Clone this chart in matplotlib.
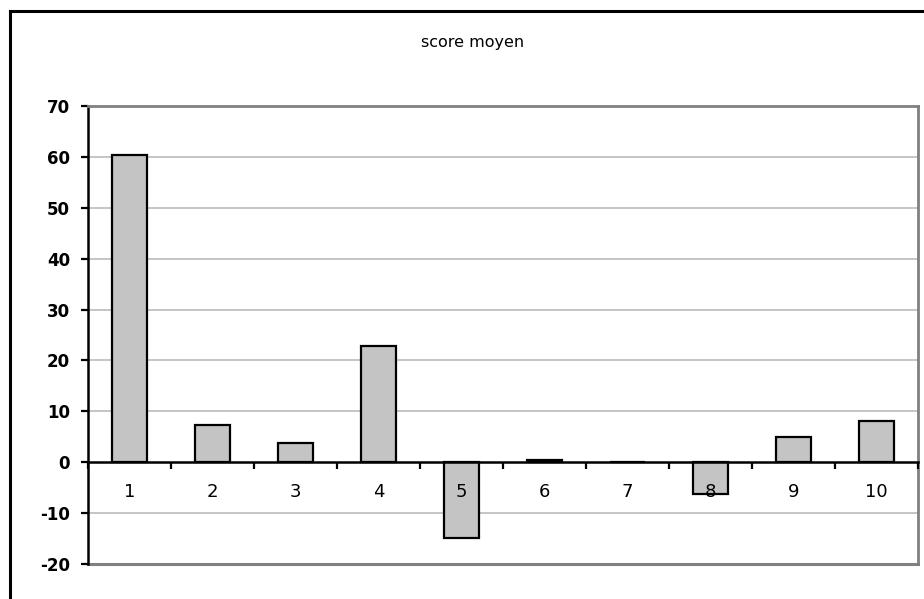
import matplotlib
matplotlib.use("Agg")
import matplotlib.pyplot as plt
from matplotlib.lines import Line2D
from matplotlib.ticker import FixedLocator

categories = ["1", "2", "3", "4", "5", "6", "7", "8", "9", "10"]
scores = [60.4, 7.3, 3.7, 22.8, -14.8, 0.45, 0.0, -6.2, 5.0, 8.1]
y_ticks = [-20, -10, 0, 10, 20, 30, 40, 50, 60, 70]
title = "score moyen"

W, H = 924, 599
fig = plt.figure(figsize=(W / 100, H / 100), dpi=100)
fig.patch.set_facecolor("white")

# chart frame (top and left edges visible)
fig.add_artist(Line2D([10 / W, 10 / W], [0, 1 - 11 / H], transform=fig.transFigure,
                      color="black", lw=2.2, solid_capstyle="projecting"))
fig.add_artist(Line2D([10 / W, 1.0], [1 - 11 / H, 1 - 11 / H], transform=fig.transFigure,
                      color="black", lw=2.2, solid_capstyle="projecting"))

left, right, top, bottom = 88, 918, 106, 564
ax = fig.add_axes([left / W, 1 - bottom / H, (right - left) / W, (bottom - top) / H])

x = list(range(len(categories)))
ax.bar(x, scores, width=0.43, color="#c4c4c4", edgecolor="black", linewidth=1.6, zorder=2)

ax.set_xlim(-0.5, len(categories) - 0.5)
ax.set_ylim(y_ticks[0], y_ticks[-1])
ax.set_yticks(y_ticks)
ax.set_yticklabels([str(v) for v in y_ticks])

# gridlines
for v in y_ticks:
    if v not in (y_ticks[0], y_ticks[-1], 0):
        ax.axhline(v, color="#c0c0c0", lw=1.3, zorder=0)

# plot-area border
for s in ("top", "right"):
    ax.spines[s].set_color("#808080")
    ax.spines[s].set_linewidth(2.0)
ax.spines["left"].set_color("black")
ax.spines["left"].set_linewidth(1.8)
# bottom frame edge drawn as a line; category axis sits on zero
ax.axhline(y_ticks[0], color="#808080", lw=2.2, zorder=1, clip_on=False)
ax.spines["bottom"].set_position(("data", 0))
ax.spines["bottom"].set_color("black")
ax.spines["bottom"].set_linewidth(1.8)
ax.spines["bottom"].set_zorder(4)

ax.xaxis.set_major_locator(FixedLocator(x))
ax.set_xticklabels(categories)
ax.xaxis.set_minor_locator(FixedLocator([i + 0.5 for i in x[:-1]] + [-0.5, len(categories) - 0.5]))
ax.tick_params(axis="x", which="major", length=0, pad=15, labelsize=13)
ax.tick_params(axis="x", which="minor", length=5, width=1.6, direction="out", color="black")
ax.tick_params(axis="y", length=5, width=1.6, direction="out", color="black", pad=8,
               labelsize=12)
for lab in ax.get_yticklabels():
    lab.set_fontweight("bold")
# category labels are drawn over the bars
ax.xaxis.set_zorder(3)

fig.text(473 / W, 1 - 43 / H, title, ha="center", va="center", fontsize=11.5)

fig.savefig("out.png", dpi=100)
